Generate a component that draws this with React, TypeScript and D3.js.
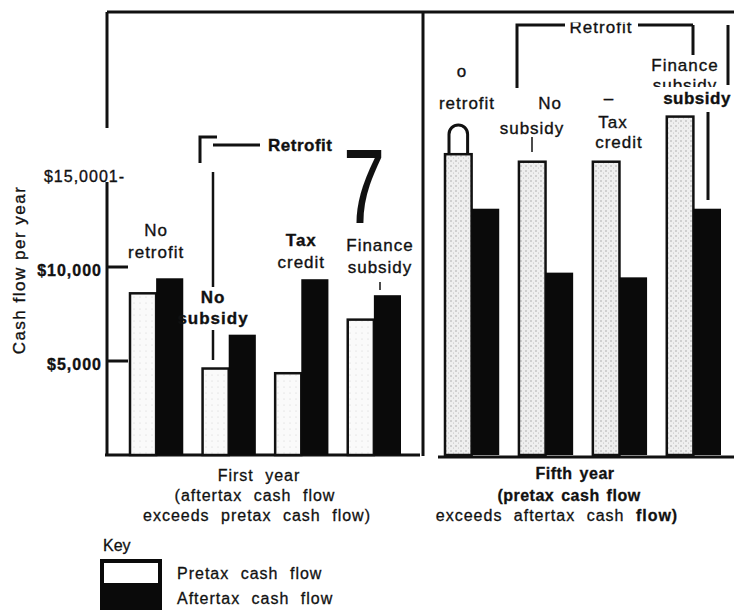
import * as d3 from 'd3';

// Values (dollars per year)
const categories = ['No retrofit', 'No subsidy', 'Tax credit', 'Finance subsidy'];
const firstYearPretax = [8600, 4600, 4350, 7200];
const firstYearAftertax = [9400, 6400, 9350, 8500];
const fifthYearPretax = [16000, 15600, 15600, 18000];
const fifthYearAftertax = [13100, 9700, 9450, 13100];
const seriesKeys = ['pretax', 'aftertax'];
const seriesNames = ['Pretax cash flow', 'Aftertax cash flow'];
const yTicks = [5000, 10000, 15000];
const yTickLabels = ['$5,000', '$10,000', '$15,0001-'];

const FONT = 'Liberation Sans, Arial, Helvetica, sans-serif';
const W = 734;
const H = 610;

const y = d3.scaleLinear().domain([0, 15000]).range([455, 173]);
const xFirst = d3.scaleBand<string>().domain(categories).range([130, 400]).paddingInner(0.28);
const xFifth = d3.scaleBand<string>().domain(categories).range([445, 720]).paddingInner(0.28);
const sub = d3.scaleBand<string>().domain(seriesKeys).range([0, xFirst.bandwidth()]);
const subR = d3.scaleBand<string>().domain(seriesKeys).range([0, xFifth.bandwidth()]);

type Panel = {
  x: d3.ScaleBand<string>;
  s: d3.ScaleBand<string>;
  pre: number[];
  post: number[];
};

const panels: Panel[] = [
  { x: xFirst, s: sub, pre: firstYearPretax, post: firstYearAftertax },
  { x: xFifth, s: subR, pre: fifthYearPretax, post: fifthYearAftertax },
];

// slight stroke so the text reads as heavy as the scanned print
const txt = {
  fontFamily: FONT,
  fontSize: 17,
  letterSpacing: 1,
  fill: '#111',
  stroke: '#111',
  strokeWidth: 0.35,
} as const;

const Bars = ({ p, idx }: { p: Panel; idx: number }) => (
  <g>
    {categories.map((c, i) => {
      const x0 = p.x(c) as number;
      const px = x0 + (p.s('pretax') as number);
      const ax = x0 + (p.s('aftertax') as number);
      const bw = p.s.bandwidth();
      const top = y(p.pre[i]);
      return (
        <g key={c}>
          {idx === 1 && i === 0 && (
            // outline of the bar top that pokes through the label in the scan
            <path
              d={`M${px + 4},${top} V${top - 20} A${(bw - 8) / 2},${(bw - 8) / 2} 0 0 1 ${px + bw - 4},${top - 20} V${top}`}
              fill="#fff"
              stroke="#111"
              strokeWidth={3}
            />
          )}
          <rect
            x={px}
            y={top}
            width={bw}
            height={y(0) - top}
            fill={idx === 0 ? 'url(#stippleLight)' : 'url(#stipple)'}
            stroke="#111"
            strokeWidth={2.5}
          />
          <rect
            x={ax}
            y={y(p.post[i])}
            width={bw + 1}
            height={y(0) - y(p.post[i])}
            fill="#0a0a0a"
          />
        </g>
      );
    })}
  </g>
);

export default function App() {
  const cx = (sc: d3.ScaleBand<string>, c: string) => (sc(c) as number) + sc.bandwidth() / 2;
  return (
    <svg
      width={W}
      height={H}
      style={{ position: 'absolute', left: 0, top: 0, background: '#fff' }}
    >
      <defs>
        <pattern id="stipple" width="5" height="5" patternUnits="userSpaceOnUse">
          <rect width="5" height="5" fill="#efefef" />
          <circle cx="1" cy="1" r="0.7" fill="#9a9a9a" />
          <circle cx="3.5" cy="3" r="0.5" fill="#b5b5b5" />
        </pattern>
        <pattern id="stippleLight" width="6" height="6" patternUnits="userSpaceOnUse">
          <rect width="6" height="6" fill="#fafafa" />
          <circle cx="2" cy="3" r="0.5" fill="#c8c8c8" />
        </pattern>
        <clipPath id="clipRetro">
          <rect x={540} y={22.5} width={100} height={20} />
        </clipPath>
        <clipPath id="clipSubs">
          <rect x={640} y={75} width={90} height={12} />
        </clipPath>
      </defs>

      {/* frame and dividers */}
      <g stroke="#111" strokeWidth={3} fill="none">
        <line x1={107} y1={12} x2={734} y2={12} />
        <line x1={107} y1={12} x2={107} y2={128} />
        <line x1={423} y1={12} x2={423} y2={456} />
        <line x1={107} y1={182} x2={107} y2={456} />
        <line x1={105} y1={455} x2={420} y2={455} />
        <line x1={438} y1={457} x2={734} y2={457} />
      </g>

      {/* y axis */}
      <text
        transform="translate(25,270) rotate(-90)"
        textAnchor="middle"
        {...txt}
        letterSpacing={1.5}
      >
        Cash flow per year
      </text>
      {yTicks.map((t, i) => (
        <g key={t}>
          {i < 2 && (
            <line x1={107} x2={128} y1={y(t)} y2={y(t)} stroke="#111" strokeWidth={3} />
          )}
          <text
            x={i < 2 ? 102 : 125}
            y={y(t) + 9}
            textAnchor="end"
            {...txt}
            fontSize={16}
            fontWeight={i < 2 ? 'bold' : 'normal'}
          >
            {yTickLabels[i]}
          </text>
        </g>
      ))}

      {panels.map((p, i) => (
        <Bars key={i} p={p} idx={i} />
      ))}

      {/* first year annotations */}
      <g stroke="#111" strokeWidth={3} fill="none">
        <path d="M200,163 V137 H217" />
        <line x1={213} y1={145} x2={260} y2={145} />
        <line x1={213} y1={172} x2={213} y2={287} strokeWidth={2.5} />
        <line x1={213} y1={330} x2={213} y2={360} strokeWidth={2.5} />
        <line x1={380} y1={282} x2={380} y2={290} strokeWidth={1.5} />
      </g>
      <text x={268} y={151} {...txt} fontWeight="bold" letterSpacing={0.5}>
        Retrofit
      </text>
      <text
        transform="translate(343,223) scale(0.72,1)"
        fontFamily={FONT}
        fontSize={105}
        fill="#111"
      >
        7
      </text>
      <g textAnchor="middle">
        <text x={cx(xFirst, categories[0])} y={236} {...txt}>No</text>
        <text x={cx(xFirst, categories[0])} y={258} {...txt}>retrofit</text>
        <text x={213} y={303} {...txt} fontWeight="bold">No</text>
        <text x={213} y={324} {...txt} fontWeight="bold">subsidy</text>
        <text x={cx(xFirst, categories[2])} y={246} {...txt} fontWeight="bold">Tax</text>
        <text x={cx(xFirst, categories[2])} y={268} {...txt}>credit</text>
        <text x={380} y={251} {...txt}>Finance</text>
        <text x={380} y={273} {...txt}>subsidy</text>
      </g>

      {/* fifth year annotations */}
      <g stroke="#111" strokeWidth={3} fill="none">
        <path d="M517,88 V25 H565" />
        <line x1={638} y1={25} x2={693} y2={25} />
        <line x1={693} y1={25} x2={693} y2={55} />
        <line x1={728} y1={25} x2={728} y2={85} />
        <line x1={532} y1={137} x2={532} y2={152} strokeWidth={1.5} />
        <line x1={708} y1={112} x2={708} y2={200} />
      </g>
      <g textAnchor="middle">
        <text x={601} y={33} {...txt} clipPath="url(#clipRetro)">Retrofit</text>
        <text x={462} y={77} {...txt}>o</text>
        <text x={467} y={109} {...txt}>retrofit</text>
        <text x={550} y={109} {...txt}>No</text>
        <text x={532} y={134} {...txt}>subsidy</text>
        <text x={609} y={104} {...txt}>–</text>
        <text x={613} y={128} {...txt}>Tax</text>
        <text x={619} y={148} {...txt}>credit</text>
        <text x={685} y={71} {...txt}>Finance</text>
        <text x={685} y={91} {...txt} clipPath="url(#clipSubs)">subsidy</text>
        <text x={697} y={104} {...txt} fontWeight="bold" letterSpacing={0.5}>subsidy</text>
      </g>

      {/* panel captions */}
      <g
        textAnchor="middle"
        fontFamily={FONT}
        fontSize={16}
        fill="#111"
        stroke="#111"
        strokeWidth={0.3}
        letterSpacing={1}
        wordSpacing={6}
      >
        <text x={259} y={481}>First year</text>
        <text x={255} y={501}>(aftertax cash flow</text>
        <text x={257} y={521}>exceeds pretax cash flow)</text>
        <text x={575} y={479} fontWeight="bold" letterSpacing={0.5} wordSpacing={2}>Fifth year</text>
        <text x={569} y={501} fontWeight="bold" letterSpacing={0.5} wordSpacing={2}>(pretax cash flow</text>
        <text x={557} y={521}>
          exceeds aftertax cash <tspan fontWeight="bold">flow)</tspan>
        </text>
      </g>

      {/* key */}
      <text x={103} y={551} fontFamily={FONT} fontSize={16} fill="#111" stroke="#111" strokeWidth={0.3}>
        Key
      </text>
      <rect x={100} y={559} width={62} height={52} fill="#0a0a0a" />
      <rect x={104} y={563} width={54} height={20} fill="#fff" />
      {seriesNames.map((n, i) => (
        <text
          key={n}
          x={177}
          y={579 + i * 25}
          fontFamily={FONT}
          fontSize={16}
          fill="#111"
          stroke="#111"
          strokeWidth={0.3}
          letterSpacing={1}
          wordSpacing={6}
        >
          {n}
        </text>
      ))}
    </svg>
  );
}
